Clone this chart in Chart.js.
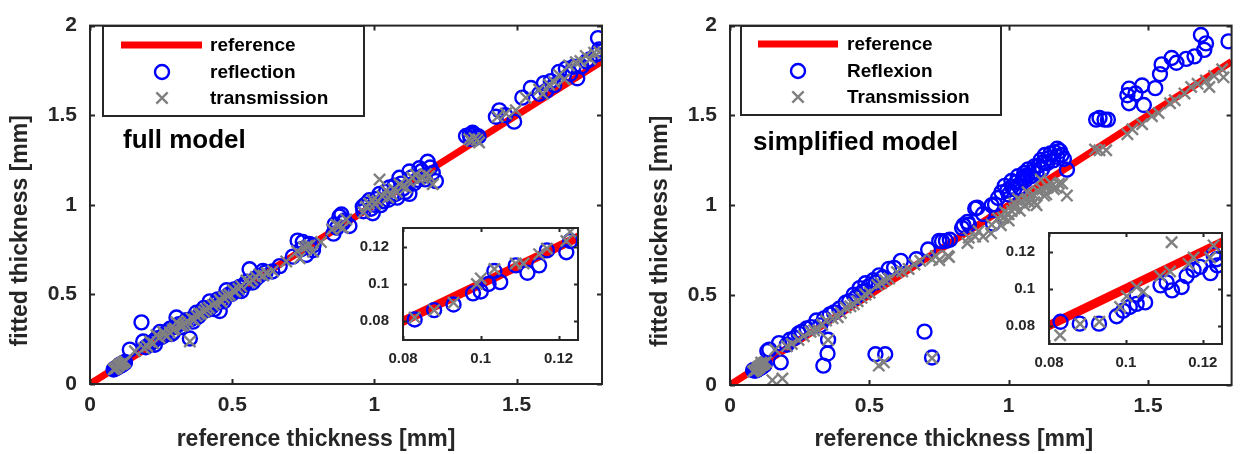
<!DOCTYPE html>
<html>
<head>
<meta charset="utf-8">
<title>Fitted vs reference thickness</title>
<script src="https://cdn.jsdelivr.net/npm/chart.js@4.4.1/dist/chart.umd.min.js"></script>
<style>
  html, body { margin: 0; padding: 0; background: #ffffff; }
  #figure { position: relative; width: 1242px; height: 454px; overflow: hidden; background: #ffffff; }
  #figure canvas { position: absolute; }
</style>
</head>
<body>
<div id="figure">
  <canvas id="fullMain" width="621" height="454" style="left:0px;top:0px;width:621px;height:454px"></canvas>
  <canvas id="simpMain" width="621" height="454" style="left:621px;top:0px;width:621px;height:454px"></canvas>
  <canvas id="fullInset" width="240" height="170" style="left:355px;top:205px;width:240px;height:170px"></canvas>
  <canvas id="simpInset" width="245" height="170" style="left:995px;top:210px;width:245px;height:170px"></canvas>
</div>
<script>
// ---- tick values and labels ----
const mainXTicks = [0, 0.5, 1, 1.5];
const mainYTicks = [0, 0.5, 1, 1.5, 2];
const insetXTicks = [0.08, 0.1, 0.12];
const insetYTicks = [0.08, 0.1, 0.12];
const xAxisTitle = 'reference thickness [mm]';
const yAxisTitle = 'fitted thickness [mm]';
const fullLabels = ['reference', 'reflection', 'transmission'];
const simplifiedLabels = ['reference', 'Reflexion', 'Transmission'];
const fullCaption = 'full model';
const simplifiedCaption = 'simplified model';

// ---- identity reference line [x, y] ----
const referenceLine = [[0, 0], [1.8, 1.8]];

// ---- full model: reflection fits [reference, fitted] in mm ----
const fullReflection = [
  [0.083,0.081],[0.088,0.086],[0.093,0.089],[0.098,0.095],[0.100,0.096],[0.102,0.100],[0.1035,0.107],
  [0.105,0.101],[0.109,0.110],[0.112,0.106],[0.115,0.110],[0.117,0.118],[0.122,0.117],[0.123,0.123],
  [0.140,0.192],[0.181,0.344],[0.187,0.237],[0.196,0.205],[0.210,0.222],[0.221,0.236],[0.228,0.219],
  [0.234,0.254],[0.246,0.290],[0.252,0.262],[0.262,0.272],[0.268,0.287],[0.281,0.308],[0.287,0.279],
  [0.292,0.288],[0.298,0.318],[0.304,0.371],[0.313,0.334],[0.321,0.318],[0.331,0.342],[0.338,0.356],
  [0.351,0.254],[0.355,0.362],[0.362,0.348],[0.374,0.398],[0.381,0.377],[0.392,0.401],[0.401,0.425],
  [0.412,0.413],[0.421,0.461],[0.428,0.431],[0.437,0.418],[0.443,0.452],[0.449,0.472],[0.456,0.407],
  [0.464,0.473],[0.471,0.462],[0.480,0.523],[0.486,0.497],[0.498,0.503],[0.507,0.528],[0.518,0.521],
  [0.526,0.541],[0.532,0.519],[0.543,0.552],[0.551,0.571],[0.561,0.640],[0.572,0.566],[0.583,0.588],
  [0.594,0.603],[0.608,0.631],[0.617,0.622],[0.641,0.628],[0.667,0.658],[0.713,0.711],[0.730,0.800],
  [0.742,0.752],[0.748,0.792],[0.760,0.720],[0.771,0.781],[0.784,0.747],[0.786,0.774],[0.856,0.839],
  [0.860,0.890],[0.868,0.872],[0.877,0.935],[0.884,0.946],[0.889,0.899],[0.895,0.912],[0.912,0.882],
  [0.959,0.989],[0.961,0.964],[0.968,1.002],[0.982,1.025],[0.988,0.978],[0.994,0.953],[1.000,1.000],
  [1.008,1.032],[1.018,1.061],[1.022,0.998],[1.030,1.020],[1.041,1.072],[1.049,1.028],[1.053,1.097],
  [1.060,1.050],[1.071,1.107],[1.076,1.062],[1.080,1.040],[1.088,1.151],[1.094,1.118],[1.100,1.090],
  [1.109,1.072],[1.123,1.186],[1.123,1.061],[1.131,1.153],[1.140,1.120],[1.151,1.139],[1.158,1.204],
  [1.166,1.188],[1.170,1.160],[1.178,1.142],[1.187,1.240],[1.196,1.208],[1.205,1.178],[1.216,1.132],
  [1.322,1.384],[1.335,1.390],[1.338,1.368],[1.345,1.402],[1.352,1.392],[1.357,1.375],[1.366,1.381],
  [1.427,1.491],[1.439,1.527],[1.460,1.500],[1.491,1.464],[1.520,1.598],[1.550,1.652],[1.580,1.620],
  [1.596,1.679],[1.604,1.636],[1.620,1.690],[1.632,1.668],[1.649,1.742],[1.673,1.760],[1.688,1.731],
  [1.700,1.770],[1.713,1.706],[1.728,1.772],[1.745,1.800],[1.757,1.811],[1.780,1.840],[1.786,1.930],
  [1.790,1.867]
];

// ---- full model: transmission fits ----
const fullTransmission = [
  [0.083,0.082],[0.088,0.086],[0.093,0.090],[0.099,0.100],[0.100,0.103],[0.1035,0.108],[0.109,0.111],
  [0.111,0.111],[0.115,0.116],[0.117,0.119],[0.122,0.123],[0.123,0.128],[0.158,0.183],[0.190,0.200],
  [0.201,0.211],[0.211,0.237],[0.222,0.226],[0.234,0.272],[0.244,0.259],[0.257,0.290],[0.262,0.278],
  [0.270,0.268],[0.281,0.287],[0.292,0.301],[0.298,0.309],[0.304,0.344],[0.312,0.334],[0.318,0.322],
  [0.327,0.326],[0.333,0.338],[0.342,0.351],[0.351,0.237],[0.357,0.366],[0.366,0.358],[0.374,0.380],
  [0.383,0.391],[0.391,0.392],[0.401,0.404],[0.409,0.416],[0.418,0.426],[0.432,0.441],[0.441,0.452],
  [0.456,0.470],[0.462,0.458],[0.471,0.482],[0.482,0.492],[0.491,0.498],[0.503,0.523],[0.511,0.515],
  [0.522,0.531],[0.532,0.545],[0.550,0.577],[0.561,0.566],[0.571,0.582],[0.583,0.597],[0.596,0.613],
  [0.609,0.605],[0.622,0.618],[0.643,0.631],[0.690,0.684],[0.728,0.741],[0.737,0.702],[0.752,0.762],
  [0.762,0.768],[0.772,0.774],[0.784,0.738],[0.812,0.792],[0.851,0.862],[0.866,0.889],[0.877,0.882],
  [0.889,0.871],[0.901,0.918],[0.962,0.958],[0.971,0.989],[0.981,1.007],[0.994,1.025],[1.002,1.003],
  [1.011,1.022],[1.018,1.141],[1.028,1.048],[1.041,1.079],[1.048,1.041],[1.061,1.058],[1.068,1.088],
  [1.079,1.071],[1.088,1.115],[1.098,1.102],[1.112,1.096],[1.121,1.132],[1.133,1.151],[1.146,1.169],
  [1.158,1.142],[1.171,1.150],[1.181,1.172],[1.192,1.161],[1.205,1.115],[1.333,1.366],[1.342,1.358],
  [1.352,1.372],[1.361,1.362],[1.368,1.348],[1.433,1.491],[1.462,1.509],[1.497,1.527],[1.532,1.598],
  [1.579,1.643],[1.592,1.618],[1.614,1.670],[1.632,1.684],[1.649,1.724],[1.668,1.701],[1.684,1.778],
  [1.708,1.796],[1.724,1.802],[1.743,1.831],[1.758,1.814],[1.772,1.849],[1.790,1.852]
];

// ---- simplified model: reflection fits ----
const simplifiedReflection = [
  [0.083,0.082],[0.088,0.081],[0.093,0.081],[0.0976,0.085],[0.0993,0.088],[0.101,0.090],[0.1028,0.0917],
  [0.1028,0.0967],[0.105,0.0925],[0.109,0.1017],[0.1106,0.1033],[0.112,0.099],[0.1145,0.1008],[0.1158,0.1067],
  [0.1176,0.110],[0.1193,0.1117],[0.122,0.1083],[0.1228,0.1183],[0.1236,0.1158],[0.1238,0.1125],
  [0.134,0.189],[0.141,0.197],[0.176,0.233],[0.182,0.126],[0.204,0.224],[0.215,0.252],[0.232,0.262],
  [0.246,0.287],[0.258,0.296],[0.275,0.314],[0.291,0.322],[0.310,0.359],[0.324,0.332],[0.335,0.108],
  [0.338,0.371],[0.350,0.175],[0.352,0.252],[0.358,0.392],[0.373,0.404],[0.392,0.424],[0.415,0.458],
  [0.428,0.467],[0.444,0.503],[0.452,0.488],[0.465,0.539],[0.476,0.519],[0.486,0.566],[0.497,0.548],
  [0.514,0.583],[0.522,0.171],[0.524,0.571],[0.535,0.610],[0.548,0.598],[0.557,0.171],[0.570,0.646],
  [0.589,0.652],[0.613,0.691],[0.669,0.700],[0.698,0.297],[0.711,0.754],[0.725,0.153],[0.751,0.802],
  [0.761,0.799],[0.775,0.802],[0.789,0.808],[0.833,0.874],[0.838,0.889],[0.852,0.907],[0.857,0.892],
  [0.880,0.982],[0.887,0.987],[0.908,0.952],[0.939,1.000],[0.944,0.898],[0.951,1.005],[0.962,1.041],
  [0.974,1.072],[0.986,1.108],[0.995,1.082],[1.000,1.060],[1.010,1.135],[1.012,1.104],[1.020,1.090],
  [1.027,1.128],[1.033,1.162],[1.040,1.100],[1.045,1.126],[1.052,1.152],[1.056,1.180],[1.060,1.140],
  [1.066,1.167],[1.070,1.200],[1.080,1.162],[1.088,1.188],[1.092,1.216],[1.100,1.180],[1.108,1.222],
  [1.115,1.252],[1.120,1.200],[1.126,1.241],[1.130,1.280],[1.138,1.234],[1.144,1.262],[1.150,1.288],
  [1.160,1.250],[1.165,1.296],[1.174,1.315],[1.174,1.270],[1.184,1.302],[1.190,1.280],[1.198,1.258],
  [1.209,1.198],[1.314,1.477],[1.326,1.486],[1.344,1.477],[1.356,1.477],[1.426,1.612],[1.432,1.649],
  [1.432,1.568],[1.455,1.622],[1.479,1.667],[1.485,1.558],[1.526,1.652],[1.543,1.730],[1.549,1.784],
  [1.585,1.820],[1.602,1.793],[1.637,1.815],[1.667,1.829],[1.690,1.948],[1.702,1.865],[1.708,1.901],
  [1.789,1.912]
];

// ---- simplified model: transmission fits ----
const simplifiedTransmission = [
  [0.0829,0.0747],[0.0881,0.0808],[0.0931,0.082],[0.0985,0.090],[0.1002,0.0958],[0.1028,0.1008],
  [0.1045,0.0983],[0.1089,0.1067],[0.1115,0.1092],[0.1119,0.125],[0.1163,0.1133],[0.1176,0.1167],
  [0.1219,0.1167],[0.1228,0.1233],[0.130,0.128],[0.152,0.027],[0.162,0.197],[0.188,0.036],[0.204,0.215],
  [0.222,0.228],[0.246,0.251],[0.265,0.271],[0.289,0.296],[0.302,0.304],[0.317,0.305],[0.331,0.336],
  [0.345,0.359],[0.352,0.251],[0.368,0.371],[0.387,0.377],[0.398,0.401],[0.415,0.431],[0.432,0.438],
  [0.444,0.449],[0.458,0.466],[0.472,0.485],[0.486,0.503],[0.501,0.514],[0.528,0.557],[0.534,0.108],
  [0.542,0.566],[0.552,0.126],[0.556,0.583],[0.571,0.592],[0.599,0.628],[0.618,0.632],[0.641,0.646],
  [0.662,0.671],[0.683,0.691],[0.725,0.700],[0.725,0.149],[0.739,0.718],[0.751,0.694],[0.782,0.718],
  [0.786,0.712],[0.852,0.790],[0.857,0.820],[0.880,0.826],[0.892,0.856],[0.908,0.826],[0.937,0.844],
  [0.939,0.892],[0.962,0.928],[0.972,0.889],[0.980,0.930],[0.986,0.964],[0.995,0.952],[1.000,0.916],
  [1.000,0.950],[1.011,0.968],[1.020,1.010],[1.021,0.982],[1.028,1.002],[1.033,1.036],[1.040,0.970],
  [1.046,1.022],[1.056,1.000],[1.062,1.031],[1.068,1.072],[1.075,1.016],[1.080,1.050],[1.088,1.062],
  [1.092,1.018],[1.100,1.000],[1.106,1.078],[1.115,1.144],[1.121,1.088],[1.127,1.054],[1.135,1.061],
  [1.140,1.100],[1.150,1.126],[1.158,1.112],[1.162,1.090],[1.171,1.098],[1.180,1.120],[1.192,1.121],
  [1.209,1.054],[1.310,1.310],[1.326,1.306],[1.350,1.306],[1.426,1.396],[1.444,1.423],[1.479,1.451],
  [1.514,1.496],[1.538,1.514],[1.579,1.568],[1.596,1.585],[1.631,1.622],[1.655,1.658],[1.678,1.676],
  [1.708,1.694],[1.720,1.658],[1.737,1.720],[1.766,1.757],[1.771,1.712]
];

// ---- styling ----
const FONT = '"Liberation Sans", Arial, Helvetica, sans-serif';
const INK = '#262626';
const RED = '#ff0000';
const BLUE = '#0000ff';
const GREY = '#808080';
const MARKER_STROKE = 2.4;

const toPoints = pairs => pairs.map(p => ({ x: p[0], y: p[1] }));

function buildDatasets(labels, reflection, transmission, lineWidth) {
  return [
    { label: labels[0], data: toPoints(referenceLine), showLine: true, borderColor: RED,
      borderWidth: lineWidth, borderCapStyle: 'butt', pointRadius: 0, order: 3, clip: 0 },
    { label: labels[1], data: toPoints(reflection), showLine: false, pointStyle: 'circle',
      pointRadius: 7, pointBorderWidth: MARKER_STROKE, pointBorderColor: BLUE, borderColor: BLUE,
      pointBackgroundColor: 'rgba(0,0,0,0)', backgroundColor: 'rgba(0,0,0,0)', order: 2, clip: 0 },
    { label: labels[2], data: toPoints(transmission), showLine: false, pointStyle: 'crossRot',
      pointRadius: 8, pointBorderWidth: MARKER_STROKE, pointBorderColor: GREY, borderColor: GREY,
      pointBackgroundColor: GREY, order: 1, clip: 0 }
  ];
}

function axis(min, max, tickValues, fontSize, padding, sizeKey, sizeValue) {
  return {
    type: 'linear', min: min, max: max,
    afterBuildTicks: s => { s.ticks = tickValues.map(v => ({ value: v })); },
    afterFit: s => { s[sizeKey] = sizeValue; },
    grid: { display: false, drawTicks: false },
    border: { display: false },
    title: { display: false },
    ticks: { color: INK, padding: padding, maxRotation: 0, autoSkip: false,
             font: { family: FONT, size: fontSize, weight: 'bold' },
             callback: v => String(v) }
  };
}

// axes box with inward ticks on all four sides
const framePlugin = {
  id: 'frame',
  beforeDraw(chart, args, o) {
    if (!o.fill) return;
    const a = chart.chartArea, ctx = chart.ctx;
    ctx.save();
    ctx.fillStyle = '#ffffff';
    ctx.fillRect(a.left, a.top, a.right - a.left, a.bottom - a.top);
    ctx.restore();
  },
  afterDatasetsDraw(chart, args, o) {
    const a = chart.chartArea, ctx = chart.ctx, xs = chart.scales.x, ys = chart.scales.y;
    const L = o.tickLength;
    ctx.save();
    ctx.strokeStyle = INK;
    ctx.lineWidth = o.lineWidth;
    ctx.beginPath();
    xs.ticks.forEach(t => {
      const px = Math.round(xs.getPixelForValue(t.value)) + 0.5;
      ctx.moveTo(px, a.bottom); ctx.lineTo(px, a.bottom - L);
      ctx.moveTo(px, a.top); ctx.lineTo(px, a.top + L);
    });
    ys.ticks.forEach(t => {
      const py = Math.round(ys.getPixelForValue(t.value)) + 0.5;
      ctx.moveTo(a.left, py); ctx.lineTo(a.left + L, py);
      ctx.moveTo(a.right, py); ctx.lineTo(a.right - L, py);
    });
    ctx.stroke();
    ctx.strokeRect(a.left, a.top, a.right - a.left, a.bottom - a.top);
    ctx.restore();
  }
};

// boxed legend inside the axes
const boxLegendPlugin = {
  id: 'boxLegend',
  afterDatasetsDraw(chart, args, o) {
    if (!o.box) return;
    const ctx = chart.ctx, ds = chart.data.datasets;
    const [bx, by, bw, bh] = o.box;
    ctx.save();
    ctx.fillStyle = '#ffffff';
    ctx.fillRect(bx, by, bw, bh);
    ctx.strokeStyle = INK;
    ctx.lineWidth = 2;
    ctx.strokeRect(bx, by, bw, bh);
    ctx.font = 'bold ' + o.fontSize + 'px ' + FONT;
    ctx.textBaseline = 'middle';
    ctx.textAlign = 'left';
    o.rows.forEach((y, i) => {
      if (i === 0) {
        ctx.strokeStyle = RED; ctx.lineWidth = 7; ctx.lineCap = 'butt';
        ctx.beginPath(); ctx.moveTo(o.lineStart, y); ctx.lineTo(o.lineEnd, y); ctx.stroke();
      } else if (i === 1) {
        ctx.strokeStyle = BLUE; ctx.lineWidth = MARKER_STROKE;
        ctx.beginPath(); ctx.arc(o.markerX, y, 7, 0, Math.PI * 2); ctx.stroke();
      } else {
        const r = 8 * Math.SQRT1_2;
        ctx.strokeStyle = GREY; ctx.lineWidth = MARKER_STROKE;
        ctx.beginPath();
        ctx.moveTo(o.markerX - r, y - r); ctx.lineTo(o.markerX + r, y + r);
        ctx.moveTo(o.markerX - r, y + r); ctx.lineTo(o.markerX + r, y - r);
        ctx.stroke();
      }
      ctx.fillStyle = '#000000';
      ctx.fillText(ds[i].label, o.textX, y + 1);
    });
    ctx.restore();
  }
};

// axis titles and the model caption
const labelsPlugin = {
  id: 'axisLabels',
  afterDraw(chart, args, o) {
    if (!o.xTitle) return;
    const a = chart.chartArea, ctx = chart.ctx;
    const cx = (a.left + a.right) / 2, cy = (a.top + a.bottom) / 2;
    ctx.save();
    ctx.fillStyle = INK;
    ctx.font = 'bold ' + o.titleSize + 'px ' + FONT;
    ctx.textAlign = 'center';
    ctx.textBaseline = 'middle';
    ctx.fillText(o.xTitle, cx + o.xTitleShift, a.bottom + o.xTitleDrop);
    ctx.save();
    ctx.translate(a.left - o.yTitleGap, cy + o.yTitleShift);
    ctx.rotate(-Math.PI / 2);
    ctx.fillText(o.yTitle, 0, 0);
    ctx.restore();
    ctx.fillStyle = '#000000';
    ctx.font = 'bold ' + o.captionSize + 'px ' + FONT;
    ctx.textAlign = 'left';
    ctx.textBaseline = 'alphabetic';
    ctx.fillText(o.caption, o.captionX, o.captionY);
    ctx.restore();
  }
};

function mainChart(id, labels, reflection, transmission, pad, yWidth, xHeight, legend, text) {
  return new Chart(document.getElementById(id), {
    type: 'scatter',
    data: { datasets: buildDatasets(labels, reflection, transmission, 7) },
    options: {
      responsive: false, animation: false, events: [],
      layout: { padding: pad },
      scales: {
        x: axis(0, 1.8, mainXTicks, 21, 9, 'height', xHeight),
        y: axis(0, 2, mainYTicks, 21, 13, 'width', yWidth)
      },
      plugins: {
        legend: { display: false }, tooltip: { enabled: false },
        frame: { lineWidth: 2, tickLength: 5, fill: false },
        boxLegend: legend,
        axisLabels: text
      }
    },
    plugins: [framePlugin, boxLegendPlugin, labelsPlugin]
  });
}

function insetChart(id, labels, reflection, transmission, pad, yWidth, xHeight) {
  return new Chart(document.getElementById(id), {
    type: 'scatter',
    data: { datasets: buildDatasets(labels, reflection, transmission, 9) },
    options: {
      responsive: false, animation: false, events: [],
      layout: { padding: pad },
      scales: {
        x: axis(0.08, 0.125, insetXTicks, 15, 10, 'height', xHeight),
        y: axis(0.07, 0.13, insetYTicks, 15, 14, 'width', yWidth)
      },
      plugins: {
        legend: { display: false }, tooltip: { enabled: false },
        frame: { lineWidth: 2, tickLength: 4, fill: true },
        boxLegend: {}, axisLabels: {}
      }
    },
    plugins: [framePlugin, boxLegendPlugin, labelsPlugin]
  });
}

mainChart('fullMain', fullLabels, fullReflection, fullTransmission,
  { left: 0, right: 19, top: 13, bottom: 0 }, 90, 70,
  { box: [103, 26, 261, 90], rows: [45, 72, 98], lineStart: 121, lineEnd: 202, markerX: 162, textX: 210, fontSize: 19 },
  { xTitle: xAxisTitle, yTitle: yAxisTitle, titleSize: 23, xTitleShift: -30, xTitleDrop: 56,
    yTitleGap: 69, yTitleShift: 26, caption: fullCaption, captionSize: 26, captionX: 123, captionY: 148 });

mainChart('simpMain', simplifiedLabels, simplifiedReflection, simplifiedTransmission,
  { left: 0, right: 2, top: 15, bottom: 0 }, 109, 69,
  { box: [120, 26, 260, 89], rows: [44, 71, 97], lineStart: 137, lineEnd: 217, markerX: 177, textX: 226, fontSize: 19 },
  { xTitle: xAxisTitle, yTitle: yAxisTitle, titleSize: 23, xTitleShift: -27, xTitleDrop: 55,
    yTitleGap: 69, yTitleShift: 26, caption: simplifiedCaption, captionSize: 26, captionX: 132, captionY: 150 });

insetChart('fullInset', fullLabels, fullReflection, fullTransmission,
  { left: 0, right: 17, top: 12, bottom: 0 }, 48, 35);

insetChart('simpInset', simplifiedLabels, simplifiedReflection, simplifiedTransmission,
  { left: 0, right: 18, top: 13, bottom: 0 }, 54, 36);
</script>
</body>
</html>
